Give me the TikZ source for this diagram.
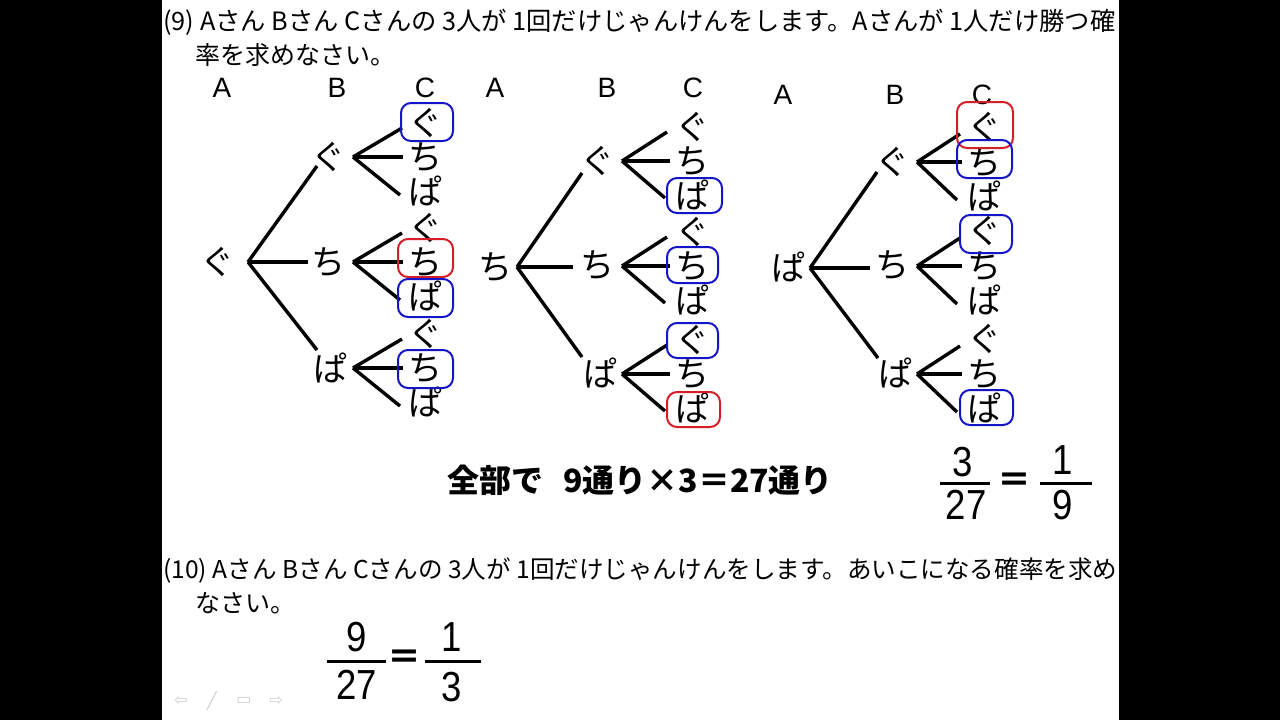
\documentclass[tikz,border=0pt]{standalone}
\usepackage{fontspec}
\setmainfont{Noto Sans CJK JP}
\newfontfamily\jp{Noto Sans CJK JP}
\newfontfamily\lat{Liberation Sans}
\newfontfamily\narrow[FakeStretch=0.87]{Liberation Sans}
\newfontfamily\dejavu{DejaVu Sans}
\usetikzlibrary{calc}
\definecolor{boxblue}{RGB}{20,20,200}
\definecolor{boxred}{RGB}{215,30,40}
\begin{document}
\begin{tikzpicture}[x=0.5pt,y=-0.5pt,
 hd/.style={anchor=west,inner sep=0,font=\jp\fontsize{12.5pt}{14pt}\selectfont},
 kana/.style={inner sep=0,font=\jp\fontsize{17pt}{19pt}\selectfont},
 col/.style={inner sep=0,font=\lat\fontsize{14pt}{16pt}\selectfont},
 br/.style={line width=1.7pt},
 bx/.style={draw=boxblue,line width=1pt,rounded corners=5pt},
 rx/.style={draw=boxred,line width=1pt,rounded corners=5pt},
 num/.style={inner sep=0,font=\narrow\fontsize{21pt}{24pt}\selectfont},
 eq/.style={inner sep=0,font=\jp\bfseries\fontsize{17pt}{19pt}\selectfont},
 bar/.style={line width=1.5pt},
 big/.style={inner sep=0,font=\jp\bfseries\fontsize{16pt}{18pt}\selectfont},
 icon/.style={inner sep=0,text=black!18,font=\dejavu\fontsize{8pt}{9pt}\selectfont}]
\useasboundingbox (0,0) rectangle (1280,720);
\fill[black] (0,0) rectangle (162,720);
\fill[black] (1119,0) rectangle (1280,720);
\fill[white] (162,0) rectangle (1119,720);

% question 9
\node[hd] (q9a) at (163,22) {\resizebox{476pt}{!}{(9) Aさん Bさん Cさんの 3人が 1回だけじゃんけんをします。Aさんが 1人だけ勝つ確}};
\node[hd] (q9b) at (195,55) {率を求めなさい。};

% ---------- tree 1 ----------
\node[col] (h1a) at (222,88) {A};
\node[col] (h1b) at (337,88) {B};
\node[col] (h1c) at (425,88) {C};
\node[kana] (t1r) at (217,262) {ぐ};
\coordinate (t1j) at (248,262);
\node[kana] (t1b1) at (328,157) {ぐ};
\node[kana] (t1b2) at (328,262) {ち};
\node[kana] (t1b3) at (330,368) {ぱ};
\draw[br] (t1j) -- ($(t1b1)+(-11,9)$);
\draw[br] (t1j) -- ($(t1b2)+(-20,0)$);
\draw[br] (t1j) -- ($(t1b3)+(-13,-18)$);
\foreach \g/\y in {1/157,2/262,3/368}{
  \coordinate (t1bj\g) at (353,\y);
  \node[kana] (t1l\g-1) at (425,\y-34) {ぐ};
  \node[kana] (t1l\g-2) at (425,\y) {ち};
  \node[kana] (t1l\g-3) at (425,\y+34) {ぱ};
  \draw[br] (t1bj\g) -- ($(t1l\g-1)+(-23,5)$);
  \draw[br] (t1bj\g) -- ($(t1l\g-2)+(-22,0)$);
  \draw[br] (t1bj\g) -- ($(t1l\g-3)+(-25,4)$);
}
\draw[bx] ($(t1l1-1)+(-24,-20)$) rectangle ($(t1l1-1)+(28,18)$);
\draw[rx] ($(t1l2-2)+(-27,-23)$) rectangle ($(t1l2-2)+(28,15)$);
\draw[bx] ($(t1l2-3)+(-27,-17)$) rectangle ($(t1l2-3)+(28,21)$);
\draw[bx] ($(t1l3-2)+(-27,-18)$) rectangle ($(t1l3-2)+(28,20)$);

% ---------- tree 2 ----------
\node[col] (h2a) at (495,88) {A};
\node[col] (h2b) at (607,88) {B};
\node[col] (h2c) at (693,88) {C};
\node[kana] (t2r) at (495,267) {ち};
\coordinate (t2j) at (517,267);
\node[kana] (t2b1) at (597,161) {ぐ};
\node[kana] (t2b2) at (597,265) {ち};
\node[kana] (t2b3) at (600,373) {ぱ};
\draw[br] (t2j) -- ($(t2b1)+(-15,12)$);
\draw[br] (t2j) -- ($(t2b2)+(-24,2)$);
\draw[br] (t2j) -- ($(t2b3)+(-18,-16)$);
\foreach \g/\y in {1/161,2/266,3/374}{
  \coordinate (t2bj\g) at (622,\y);
  \node[kana] (t2l\g-1) at (692,\y-34) {ぐ};
  \node[kana] (t2l\g-2) at (692,\y) {ち};
  \node[kana] (t2l\g-3) at (692,\y+34) {ぱ};
  \draw[br] (t2bj\g) -- ($(t2l\g-1)+(-25,5)$);
  \draw[br] (t2bj\g) -- ($(t2l\g-2)+(-22,0)$);
  \draw[br] (t2bj\g) -- ($(t2l\g-3)+(-27,3)$);
}
\draw[bx] ($(t2l1-3)+(-25,-17)$) rectangle ($(t2l1-3)+(30,18)$);
\draw[bx] ($(t2l2-2)+(-25,-19)$) rectangle ($(t2l2-2)+(26,17)$);
\draw[bx] ($(t2l3-1)+(-25,-17)$) rectangle ($(t2l3-1)+(26,18)$);
\draw[rx] ($(t2l3-3)+(-25,-16)$) rectangle ($(t2l3-3)+(28,19)$);

% ---------- tree 3 ----------
\node[col] (h3a) at (783,95) {A};
\node[col] (h3b) at (895,95) {B};
\node[col] (h3c) at (982,95) {C};
\node[kana] (t3r) at (788,267) {ぱ};
\coordinate (t3j) at (810,268);
\node[kana] (t3b1) at (892,162) {ぐ};
\node[kana] (t3b2) at (892,265) {ち};
\node[kana] (t3b3) at (895,373) {ぱ};
\draw[br] (t3j) -- ($(t3b1)+(-15,10)$);
\draw[br] (t3j) -- ($(t3b2)+(-22,3)$);
\draw[br] (t3j) -- ($(t3b3)+(-17,-15)$);
\foreach \g/\y in {1/162,2/266,3/374}{
  \coordinate (t3bj\g) at (917,\y);
  \node[kana] (t3l\g-1) at (984,\y-35) {ぐ};
  \node[kana] (t3l\g-2) at (984,\y) {ち};
  \node[kana] (t3l\g-3) at (984,\y+34) {ぱ};
  \draw[br] (t3bj\g) -- ($(t3l\g-1)+(-24,7)$);
  \draw[br] (t3bj\g) -- ($(t3l\g-2)+(-22,0)$);
  \draw[br] (t3bj\g) -- ($(t3l\g-3)+(-27,4)$);
}
\draw[rx] ($(t3l1-1)+(-27,-25)$) rectangle ($(t3l1-1)+(29,21)$);
\draw[bx] ($(t3l1-2)+(-27,-22)$) rectangle ($(t3l1-2)+(28,16)$);
\draw[bx] ($(t3l2-1)+(-24,-16)$) rectangle ($(t3l2-1)+(28,22)$);
\draw[bx] ($(t3l3-3)+(-24,-18)$) rectangle ($(t3l3-3)+(29,17)$);

% ---------- totals ----------
\node[big] (tot) at (640,480) {全部で\hspace{10pt}9通り×3＝27通り};
\node[num] (f1n) at (963,462) {3};
\node[num] (f1d) at (966,505) {27};
\draw[bar] (940,483) -- (990,483);
\node[eq] (f1e) at (1014,483) {＝};
\node[num] (f2n) at (1063,460) {1};
\node[num] (f2d) at (1063,505) {9};
\draw[bar] (1040,483) -- (1092,483);

% question 10
\node[hd] (q10a) at (163,570) {\resizebox{477pt}{!}{(10) Aさん Bさん Cさんの 3人が 1回だけじゃんけんをします。あいこになる確率を求め}};
\node[hd] (q10b) at (195,603) {なさい。};
\node[num] (g1n) at (357,637) {9};
\node[num] (g1d) at (357,685) {27};
\draw[bar] (327,661) -- (386,661);
\node[eq] (g1e) at (404,660) {＝};
\node[num] (g2n) at (452,637) {1};
\node[num] (g2d) at (452,687) {3};
\draw[bar] (425,661) -- (481,661);

% slide controls
\node[icon] (ic1) at (181,701) {⇦};
\node[icon] (ic2) at (212,701) {╱};
\node[icon] (ic3) at (244,701) {▭};
\node[icon] (ic4) at (276,701) {⇨};
\end{tikzpicture}
\end{document}
